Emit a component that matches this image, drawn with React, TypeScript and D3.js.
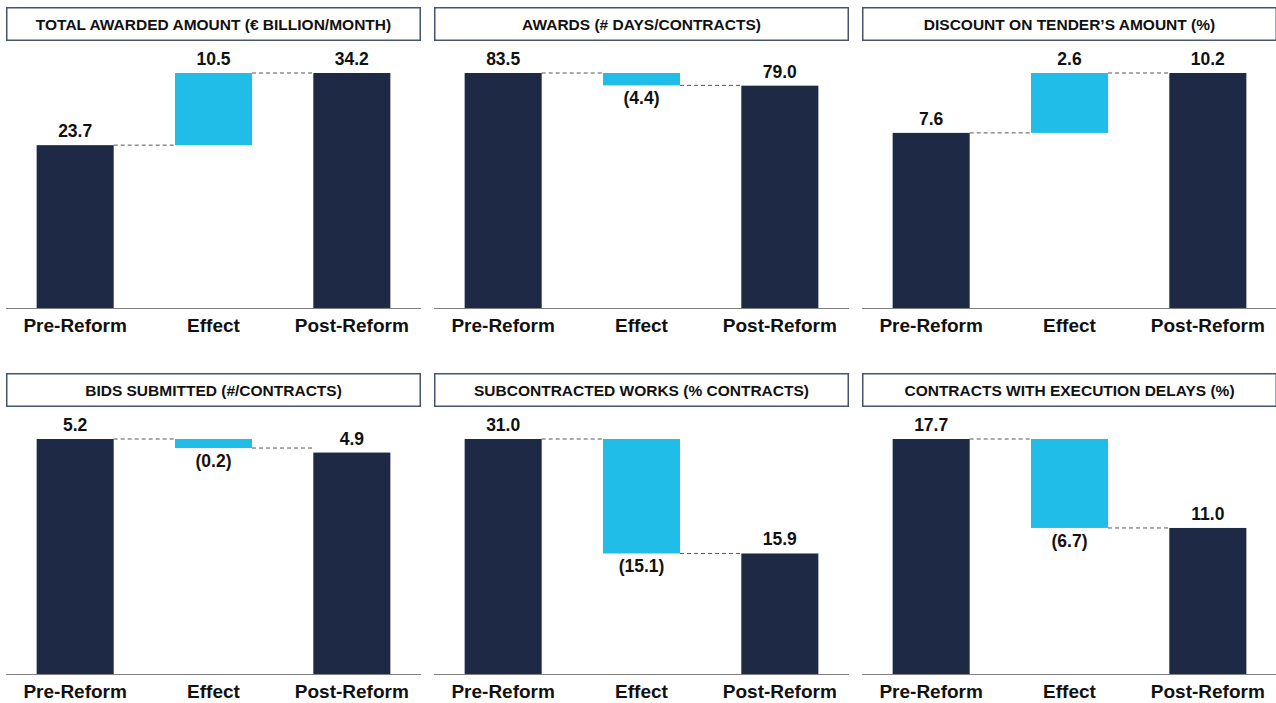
import React from "react";
import * as d3 from "d3";

const titles = [
  "TOTAL AWARDED AMOUNT (€ BILLION/MONTH)",
  "AWARDS (# DAYS/CONTRACTS)",
  "DISCOUNT ON TENDER\u2019S AMOUNT (%)",
  "BIDS SUBMITTED (#/CONTRACTS)",
  "SUBCONTRACTED WORKS (% CONTRACTS)",
  "CONTRACTS WITH EXECUTION DELAYS (%)",
];
const categories = ["Pre-Reform", "Effect", "Post-Reform"];
const preValues = [23.7, 83.5, 7.6, 5.2, 31.0, 17.7];
const effectValues = [10.5, -4.4, 2.6, -0.2, -15.1, -6.7];
const postValues = [34.2, 79.0, 10.2, 4.9, 15.9, 11.0];

const NAVY = "#1e2a45";
const CYAN = "#1fbde8";
const FONT = "'Liberation Sans', Arial, sans-serif";

const fmt = (v: number) => (v < 0 ? `(${Math.abs(v).toFixed(1)})` : v.toFixed(1));

function Panel({ i, x0, y0 }: { i: number; x0: number; y0: number }) {
  const W = 415;
  const titleH = 34;
  const baseY = 301; // relative to panel top
  const topY = 66;
  const pre = preValues[i];
  const eff = effectValues[i];
  const post = postValues[i];
  const maxV = Math.max(pre, post, pre + eff);
  const x = d3.scaleBand<string>().domain(categories).range([0, W]).paddingInner(0.443).paddingOuter(0.2215);
  const y = d3.scaleLinear().domain([0, maxV]).range([baseY, topY]);
  const bw = x.bandwidth();
  const bars = [
    { c: categories[0], lo: 0, hi: pre, v: pre, color: NAVY },
    { c: categories[1], lo: Math.min(pre, pre + eff), hi: Math.max(pre, pre + eff), v: eff, color: CYAN },
    { c: categories[2], lo: 0, hi: post, v: post, color: NAVY },
  ];
  const conn1 = pre;
  const conn2 = pre + eff;
  return (
    <g transform={`translate(${x0},${y0})`}>
      <rect x={0.75} y={0.75} width={W - 1.5} height={titleH - 1.5} fill="#fff" stroke="#44546a" strokeWidth={1.5} />
      <text x={W / 2} y={titleH / 2 + 5.5} textAnchor="middle" fontFamily={FONT} fontWeight="bold" fontSize={15.5} fill="#111">
        {titles[i]}
      </text>
      <line x1={x(categories[0])! + bw} x2={x(categories[1])!} y1={y(conn1)} y2={y(conn1)} stroke="#555" strokeWidth={1} strokeDasharray="4,3" />
      <line x1={x(categories[1])! + bw} x2={x(categories[2])!} y1={y(conn2)} y2={y(conn2)} stroke="#555" strokeWidth={1} strokeDasharray="4,3" />
      {bars.map((b) => (
        <rect key={b.c} x={x(b.c)} y={y(b.hi)} width={bw} height={Math.max(1, y(b.lo) - y(b.hi))} fill={b.color} />
      ))}
      {bars.map((b) => {
        const cx = x(b.c)! + bw / 2;
        const ty = b.v < 0 ? y(b.lo) + 19 : y(b.hi) - 8;
        return (
          <text key={b.c + "l"} x={cx} y={ty} textAnchor="middle" fontFamily={FONT} fontWeight="bold" fontSize={17.5} fill="#111">
            {fmt(b.v)}
          </text>
        );
      })}
      <line x1={0} x2={W} y1={baseY + 0.5} y2={baseY + 0.5} stroke="#7f7f7f" strokeWidth={1} />
      {categories.map((c) => (
        <text key={c + "c"} x={x(c)! + bw / 2} y={baseY + 24} textAnchor="middle" fontFamily={FONT} fontWeight="bold" fontSize={19} fill="#111">
          {c}
        </text>
      ))}
    </g>
  );
}

export default function App() {
  const cols = [6, 434, 862];
  const rows = [7, 373];
  return (
    <svg width={1276} height={703} style={{ position: "absolute", left: 0, top: 0, background: "#fff" }}>
      <rect width={1276} height={703} fill="#fff" />
      {titles.map((_, i) => (
        <Panel key={i} i={i} x0={cols[i % 3]} y0={rows[Math.floor(i / 3)]} />
      ))}
    </svg>
  );
}
